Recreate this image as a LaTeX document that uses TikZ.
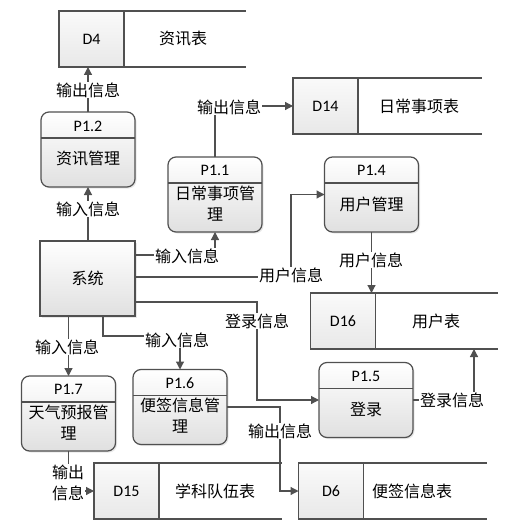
\documentclass[tikz,border=0pt]{standalone}
\usepackage{fontspec}
\setmainfont{Carlito}
\newfontfamily\cjk{Noto Sans CJK SC}
\usetikzlibrary{arrows.meta,calc,shadows}
\definecolor{linegray}{HTML}{505050}
\definecolor{boxgray}{HTML}{E0E0E0}
\begin{document}
\begin{tikzpicture}[x=1pt,y=-1pt,
  every node/.style={inner sep=0pt,outer sep=0pt},
  shade/.style={drop shadow={shadow xshift=1.5pt,shadow yshift=-1.5pt,opacity=0.18}},
  proc/.style={draw=linegray,line width=1.2pt,rounded corners=8pt,minimum width=94pt,minimum height=75pt,top color=white,bottom color=boxgray,shade},
  sysbox/.style={draw=linegray,line width=1.2pt,minimum width=95pt,minimum height=75pt,top color=white,bottom color=boxgray,shade},
  storehead/.style={draw=linegray,line width=1.2pt,minimum width=65pt,minimum height=56pt,top color=gray!4,bottom color=gray!18},
  storeline/.style={draw=linegray,line width=1.2pt},
  div/.style={draw=linegray,line width=1.2pt},
  lat/.style={font=\fontsize{16pt}{19pt}\selectfont},
  cjktext/.style={font=\cjk\fontsize{16pt}{21pt}\selectfont,align=center},
  lbl/.style={font=\cjk\fontsize{16pt}{21pt}\selectfont,align=center,fill=white,inner sep=1pt},
  flow/.style={draw=linegray,line width=1.2pt,-{Triangle[length=8pt,width=8pt]}}
]
\fill[white] (0,0) rectangle (506,532);
\useasboundingbox (0,0) rectangle (506,532);

% ---------- stores ----------
\node[storehead] (d4) at (91.5,39) {};
\draw[storeline] (d4.north east) -- ++(122,0);
\draw[storeline] (d4.south east) -- ++(122,0);
\node[lat] (d4l) at (d4.center) {D4};
\node[cjktext] (d4n) at (183,39) {资讯表};

\node[storehead] (d14) at (325.5,106) {};
\draw[storeline] (d14.north east) -- ++(124,0);
\draw[storeline] (d14.south east) -- ++(124,0);
\node[lat] (d14l) at (d14.center) {D14};
\node[cjktext] (d14n) at (419,106) {日常事项表};

\node[storehead] (d16) at (343,321) {};
\draw[storeline] (d16.north east) -- ++(122,0);
\draw[storeline] (d16.south east) -- ++(122,0);
\node[lat] (d16l) at (d16.center) {D16};
\node[cjktext] (d16n) at (436,321) {用户表};

\node[storehead] (d15) at (126.5,491) {};
\draw[storeline] (d15.north east) -- ++(123,0);
\draw[storeline] (d15.south east) -- ++(123,0);
\node[lat] (d15l) at (d15.center) {D15};
\node[cjktext] (d15n) at (215,491) {学科队伍表};

\node[storehead] (d6) at (331,491) {};
\draw[storeline] (d6.north east) -- ++(123,0);
\draw[storeline] (d6.south east) -- ++(123,0);
\node[lat] (d6l) at (d6.center) {D6};
\node[cjktext] (d6n) at (412,491) {便签信息表};

% ---------- system ----------
\node[sysbox] (sys) at (87.5,278.5) {};
\node[cjktext] (sysl) at (sys.center) {系统};

% ---------- processes ----------
\node[proc] (p12) at (88,149.5) {};
\draw[div] ($(p12.north west)+(0,26)$) -- ($(p12.north east)+(0,26)$);
\node[lat] (p12t) at ($(p12.north)+(0,14)$) {P1.2};
\node[cjktext] (p12b) at ($(p12.north)+(0,47)$) {资讯管理};

\node[proc] (p11) at (215,194.5) {};
\draw[div] ($(p11.north west)+(0,26)$) -- ($(p11.north east)+(0,26)$);
\node[lat] (p11t) at ($(p11.north)+(0,13.5)$) {P1.1};
\node[cjktext] (p11b) at ($(p11.north)+(0,46.5)$) {日常事项管\\理};

\node[proc] (p14) at (371.5,194.5) {};
\draw[div] ($(p14.north west)+(0,26)$) -- ($(p14.north east)+(0,26)$);
\node[lat] (p14t) at ($(p14.north)+(0,13.5)$) {P1.4};
\node[cjktext] (p14b) at ($(p14.north)+(0,47)$) {用户管理};

\node[proc] (p15) at (366,400) {};
\draw[div] ($(p15.north west)+(0,26)$) -- ($(p15.north east)+(0,26)$);
\node[lat] (p15t) at ($(p15.north)+(0,13.5)$) {P1.5};
\node[cjktext] (p15b) at ($(p15.north)+(0,47)$) {登录};

\node[proc] (p17) at (68.5,413.5) {};
\draw[div] ($(p17.north west)+(0,26)$) -- ($(p17.north east)+(0,26)$);
\node[lat] (p17t) at ($(p17.north)+(0,13.5)$) {P1.7};
\node[cjktext] (p17b) at ($(p17.north)+(0,46.5)$) {天气预报管\\理};

\node[proc] (p16) at (180,407) {};
\draw[div] ($(p16.north west)+(0,26)$) -- ($(p16.north east)+(0,26)$);
\node[lat] (p16t) at ($(p16.north)+(0,13.5)$) {P1.6};
\node[cjktext] (p16b) at ($(p16.north)+(0,46.5)$) {便签信息管\\理};

% ---------- connectors ----------
\draw[flow] (p12.north) -- (p12.north |- d4.south);
\draw[flow] (p12.south |- sys.north) -- (p12.south);
\draw[flow] (p11.north) |- (d14.west);
\draw[flow] ($(sys.east)+(0,-23.5)$) -| (p11.south);
\draw[flow] ($(sys.east)+(0,-1.5)$) -- (291,277) |- (p14.west);
\draw[flow] (p14.south) -- (p14.south |- d16.north);
\draw[flow] ($(sys.east)+(0,23.5)$) -- (257,302) |- (p15.west);
\coordinate (d16in) at (474,349);
\draw[flow] (p15.east) -| (d16in);
\draw[flow] (p17.north |- sys.south) -- (p17.north);
\draw[flow] ($(sys.south)+(15.5,0)$) -- ++(0,20) -| (p16.north);
\draw[flow] (p16.east) -- (280,407) |- (d6.west);
\draw[flow] (p17.south) |- (d15.west);

% ---------- connector labels ----------
\node[lbl] (l1) at (88,90) {输出信息};
\node[lbl] (l2) at (88,209) {输入信息};
\node[lbl] (l3) at (229,107) {输出信息};
\node[lbl] (l4) at (187,256) {输入信息};
\node[lbl] (l5) at (291,275) {用户信息};
\node[lbl] (l6) at (371,260) {用户信息};
\node[lbl] (l7) at (257,321) {登录信息};
\node[lbl] (l8) at (452,400) {登录信息};
\node[lbl] (l9) at (67,347) {输入信息};
\node[lbl] (l10) at (177,340) {输入信息};
\node[lbl] (l11) at (280,431) {输出信息};
\node[lbl] (l12) at (68,483) {输出\\信息};
\end{tikzpicture}
\end{document}
